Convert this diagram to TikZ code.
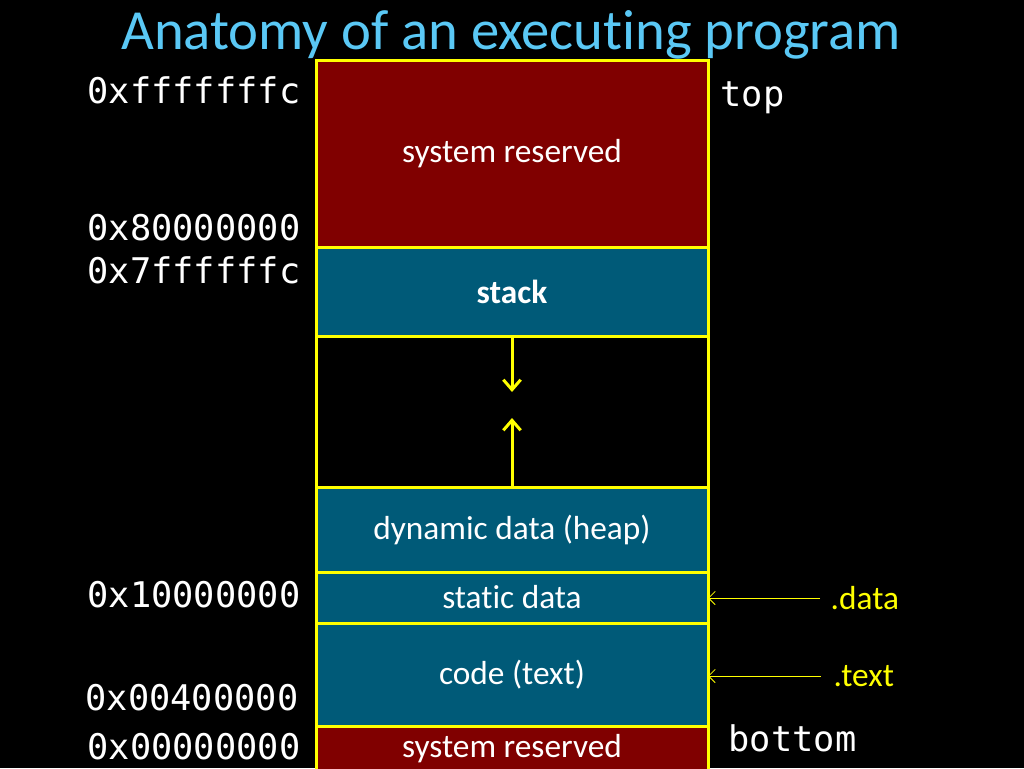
\documentclass[tikz,border=0pt]{standalone}
\usepackage{fontspec}
\setmainfont{Carlito}[RawFeature={-liga}]
\newfontfamily\addrfont{DejaVu Sans Mono}
\usetikzlibrary{positioning,arrows.meta}

\definecolor{sysred}{RGB}{128,0,0}
\definecolor{segblue}{RGB}{0,90,120}
\definecolor{titleblue}{RGB}{90,200,245}
\definecolor{segline}{RGB}{255,255,0}

\tikzset{
    seg/.style={draw=segline,line width=2.25pt,inner sep=0pt,outer sep=0pt,
        minimum width=294pt,text=white,font=\fontsize{25}{30}\selectfont},
    addr/.style={anchor=east,text=white,font=\addrfont\fontsize{26.5}{30}\selectfont},
    secname/.style={text=segline,font=\fontsize{25}{30}\selectfont},
    growarrow/.style={draw=segline,line width=2.25pt,-{Straight Barb[length=7.5pt,width=13pt]}},
    secarrow/.style={draw=segline,line width=0.6pt,-{Straight Barb[length=5pt,width=10pt]}}
}

\begin{document}
\begin{tikzpicture}[x=0.75pt,y=-0.75pt]

    % page
    \fill[black] (0,0) rectangle (1024,768);
    \useasboundingbox (0,0) rectangle (1024,768);

    \node (title) at (511,35) [text=titleblue,font=\fontsize{42.5}{46}\selectfont]
        {Anatomy of an executing program};

    % segments, top to bottom
    \node (sysres) at (512,153.5) [seg,fill=sysred,minimum height=140.25pt] {system reserved};
    \node (stack) at (512,291.5) [seg,fill=segblue,minimum height=66.75pt] {\bfseries stack};
    \node (gap) at (512,411.5) [seg,fill=black,minimum height=113.25pt] {};
    \node (heap) at (512,529.5) [seg,fill=segblue,minimum height=63.75pt] {dynamic data (heap)};
    \node (static) at (512,597.5) [seg,fill=segblue,minimum height=38.25pt] {static data};
    \node (code) at (512,674.5) [seg,fill=segblue,minimum height=77.25pt] {code (text)};
    \node (sysbot) at (512,749) [seg,fill=sysred,minimum height=34.5pt] {system reserved};

    % stack and heap grow
    \coordinate (stackend) at (512,392);
    \coordinate (heapend) at (512,418);
    \draw[growarrow] (stack.south) -- (stackend);
    \draw[growarrow] (heap.north) -- (heapend);

    % addresses
    \node[addr] (a1) at (305,90) {0xfffffffc};
    \node[addr] (a2) at (305,228) {0x80000000};
    \node[addr] (a3) at (305,270) {0x7ffffffc};
    \node[addr] (a4) at (305,595) {0x10000000};
    \node[addr] (a5) at (303,698) {0x00400000};
    \node[addr] (a6) at (305,747) {0x00000000};

    \node[addr,anchor=west] (top) at (716,98) {top};
    \node[addr,anchor=west] (bottom) at (724,738) {bottom};

    % sections
    \node[secname,anchor=west] (datasec) at (826,598) {.data};
    \node[secname,anchor=west] (textsec) at (829,676) {.text};
    \draw[secarrow] ([xshift=-4.5pt]datasec.west) -- (static.east |- datasec.west);
    \draw[secarrow] ([xshift=-6pt]textsec.west) -- (code.east |- textsec.west);

\end{tikzpicture}
\end{document}
